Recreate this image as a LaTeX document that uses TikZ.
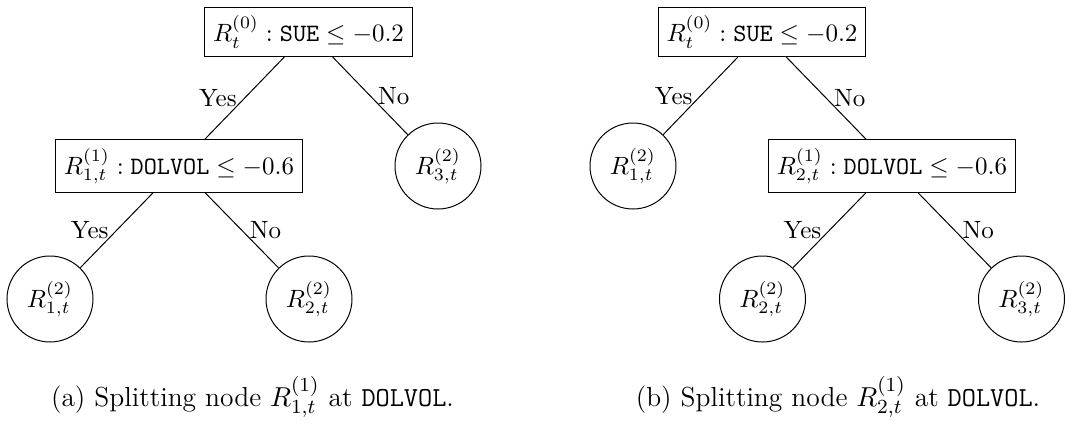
\documentclass[tikz,border=0pt]{standalone}
\usepackage{amssymb}
\usepackage{tikz}

\begin{document}
\begin{tikzpicture}[x=0.4pt,y=-0.4pt,
    split/.style={draw,rectangle,inner sep=3.33pt},
    leaf/.style={draw,circle,minimum size=34.4pt,inner sep=0pt},
    answer/.style={draw=none,inner sep=3pt},
    caption/.style={anchor=base,font=\fontsize{11}{13}\selectfont}]

\useasboundingbox (0,0) rectangle (1075,427); % Keep the page size

% (a) split at the left child
\node [split] (RootA) at (308.5,32) {$R^{(0)}_t : \mathtt{SUE} \leq -0.2$};
\node [split] (CutA) at (179,166) {$R^{(1)}_{1,t} : \mathtt{DOLVOL} \leq -0.6$};
\node [leaf] (LeafAthree) at (438,166) {$R^{(2)}_{3,t}$};
\node [leaf] (LeafAone) at (50,299) {$R^{(2)}_{1,t}$};
\node [leaf] (LeafAtwo) at (309,299) {$R^{(2)}_{2,t}$};

% (b) split at the right child
\node [split] (RootB) at (762,32) {$R^{(0)}_t : \mathtt{SUE} \leq -0.2$};
\node [leaf] (LeafBone) at (633,166) {$R^{(2)}_{1,t}$};
\node [split] (CutB) at (892,166) {$R^{(1)}_{2,t} : \mathtt{DOLVOL} \leq -0.6$};
\node [leaf] (LeafBtwo) at (762.5,299) {$R^{(2)}_{2,t}$};
\node [leaf] (LeafBthree) at (1021.5,299) {$R^{(2)}_{3,t}$};

\foreach \Parent/\Child/\Side/\Answer in {RootA/CutA/left/Yes, RootA/LeafAthree/right/No,
    CutA/LeafAone/left/Yes, CutA/LeafAtwo/right/No,
    RootB/LeafBone/left/Yes, RootB/CutB/right/No,
    CutB/LeafBtwo/left/Yes, CutB/LeafBthree/right/No}{
    \draw (\Parent) -- node [answer,\Side] {\Answer} (\Child);
}

% Captions
\node [caption] (CapA) at (252.5,406) {(a) Splitting node $R^{(1)}_{1,t}$ at \texttt{DOLVOL}.};
\node [caption] (CapB) at (838,406) {(b) Splitting node $R^{(1)}_{2,t}$ at \texttt{DOLVOL}.};

\end{tikzpicture}
\end{document}
